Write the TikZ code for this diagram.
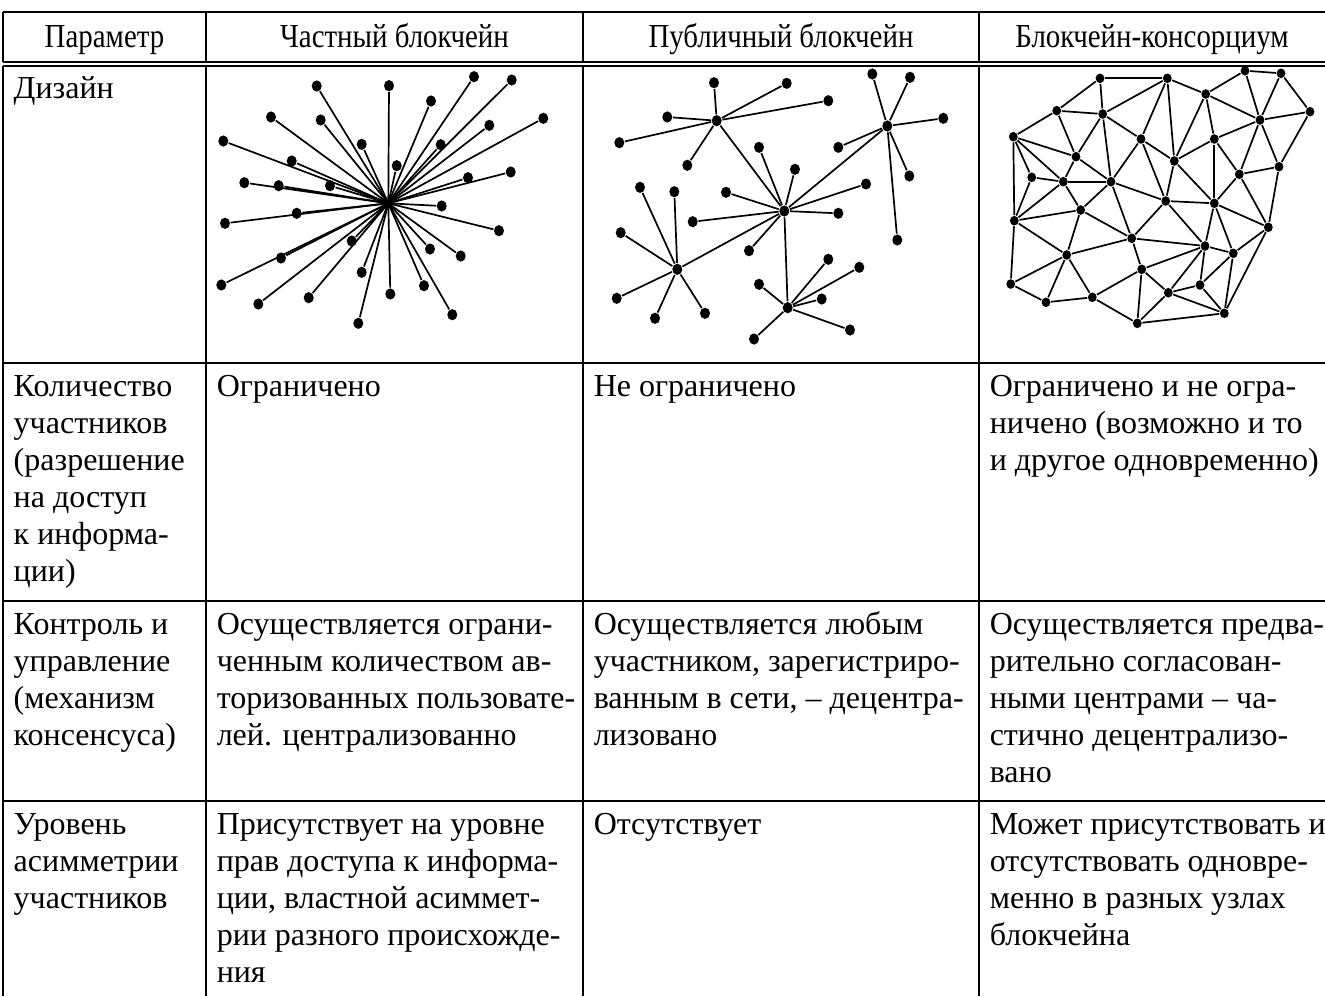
\documentclass[tikz,border=0pt]{standalone}
\usepackage{fontspec}
\setmainfont{Liberation Serif}
\newfontfamily\headfont[FakeStretch=0.86]{Liberation Serif}
\tikzset{every picture/.style={line width=0.75pt}}
\tikzset{
  rule/.style={line width=1pt},
  hd/.style={font=\headfont\fontsize{16.8pt}{19pt}\selectfont, anchor=base, inner sep=0pt},
  cell/.style={font=\fontsize{16pt}{18.5pt}\selectfont, anchor=north west, inner sep=0pt, align=left},
  dot/.style={ellipse, fill, inner sep=0pt, minimum width=5pt, minimum height=5.6pt},
  link/.style={line width=0.85pt}
}
\usetikzlibrary{shapes.geometric}

\begin{document}
\begin{tikzpicture}[x=0.5pt, y=-0.5pt]
        \useasboundingbox (0,0) rectangle (1325,996);
        % table rules
        \draw[rule] (3,12) -- (1325,12);
        \draw[rule] (3,62) -- (1325,62);
        \draw[rule] (3,65.5) -- (1325,65.5);
        \foreach \y in {363,601,801} \draw[rule] (3,\y) -- (1325,\y);
        \foreach \x in {3,206,583,979} {
            \draw[rule] (\x,12) -- (\x,62);
            \draw[rule] (\x,65.5) -- (\x,996);
        }
        % header
        \node[hd] (hpar)  at (104.5,47) {Параметр};
        \node[hd] (hpriv) at (394.5,47) {Частный блокчейн};
        \node[hd] (hpub)  at (781,47)   {Публичный блокчейн};
        \node[hd] (hcons) at (1152,47)  {Блокчейн-консорциум};
        % body
        \node[cell] (design) at (13,72) {\strut Дизайн};
        \node[cell] (size) at (13,370) {\strut Количество\\участников\\(разрешение\\на доступ\\к информа-\\ции)};
        \node[cell] (sizepriv) at (216,370) {\strut Ограничено};
        \node[cell] (sizepub)  at (593,370) {\strut Не ограничено};
        \node[cell] (sizecons) at (989,370) {\strut Ограничено и не огра-\\ничено (возможно и то\\и другое одновременно)};
        \node[cell] (ctrl) at (13,608) {\strut Контроль и\\управление\\(механизм\\консенсуса)};
        \node[cell] (ctrlpriv) at (216,608) {\strut Осуществляется ограни-\\ченным количеством ав-\\торизованных пользовате-\\лей. централизованно};
        \node[cell] (ctrlpub)  at (593,608) {\strut Осуществляется любым\\участником, зарегистриро-\\ванным в сети, – децентра-\\лизовано};
        \node[cell] (ctrlcons) at (989,608) {\strut Осуществляется предва-\\рительно согласован-\\ными центрами – ча-\\стично децентрализо-\\вано};
        \node[cell] (asym) at (13,808) {\strut Уровень\\асимметрии\\участников};
        \node[cell] (asympriv) at (216,808) {\strut Присутствует на уровне\\прав доступа к информа-\\ции, властной асиммет-\\рии разного происхожде-\\ния};
        \node[cell] (asympub)  at (593,808) {\strut Отсутствует};
        \node[cell] (asymcons) at (989,808) {\strut Может присутствовать и\\отсутствовать одновре-\\менно в разных узлах\\блокчейна};
        % private: star
        \node[dot, minimum width=2pt, minimum height=2pt] (s0) at (388.3,203.3) {};
        \foreach \n/\x/\y in {1/316.7/86, 2/389/85.7, 3/474/76.7, 4/511.7/80, 5/431/101,
            6/271/117, 7/320.7/120, 8/489.3/125.3, 9/543.3/118.3, 10/223.3/141,
            11/361.7/144.3, 12/440.7/144.7, 13/291.7/161, 14/396.7/165.7, 15/244.3/182.7,
            16/278.7/185.7, 17/330/185.7, 18/468/177.7, 19/510.7/172, 20/441.7/206,
            21/296.7/213.3, 22/225/223.3, 23/499/230.7, 24/351.7/241, 25/430/249,
            26/460.7/256, 27/281/258, 28/221.3/285, 29/361.7/272.3, 30/390.3/294,
            31/424/285.7, 32/258.3/304, 33/308.7/297.7, 34/452.3/314.7, 35/358.3/323.3} {
            \node[dot] (s\n) at (\x,\y) {};
            \draw[link] (s0.center) -- (s\n);
        }
        % public: hubs and leaves
        \foreach \h/\x/\y in {1/716.7/120.7, 2/887.3/126, 3/784.3/211, 4/677.3/269.3, 5/787.7/307.7}
            \node[dot] (p\h) at (\x,\y) {};
        \draw[link] (p1) -- (p3);
        \draw[link] (p2) -- (p3);
        \draw[link] (p4) -- (p3);
        \draw[link] (p5) -- (p3);
        \foreach \h/\k/\x/\y in {1/1/714/82.7, 1/2/786.7/83.3, 1/3/828.3/100.7, 1/4/667.3/117, 1/5/619.3/142.7, 1/6/687.3/165.3,
            2/1/872.3/74, 2/2/910/77.3, 2/3/943.3/118.3, 2/4/838.3/147.3, 2/5/909.3/176, 2/6/897.3/240,
            3/1/759/147.3, 3/2/795/169.3, 3/3/866/184, 3/4/726/192.3, 3/5/838.3/213.3, 3/6/692.7/221.7, 3/7/749/250.7,
            4/1/640/187.3, 4/2/674.3/191.7, 4/3/620.7/232.7, 4/4/616.7/298.3, 4/5/655/318.3, 4/6/705/313.3,
            5/1/828.3/259.3, 5/2/859.3/267.3, 5/3/821.7/299, 5/4/759/284.3, 5/5/850/330, 5/6/754/339} {
            \node[dot] (q\h-\k) at (\x,\y) {};
            \draw[link] (p\h) -- (q\h-\k);
        }
        % consortium: mesh
        \foreach \n/\x/\y in {a/1100/78.3, b/1167.3/78.3, c/1245/70.7, d/1281/73.3, e/1205.7/94,
            f/1310/111.7, g/1056.7/110.7, h/1102.7/114, i/1260/120, j/1013.3/136.7,
            k/1141/139, l/1214.3/139, m/1076/156.7, n/1174.3/161, o/1279/166.7,
            p/1239.3/174.3, q/1031.7/177.3, r/1063.3/181.7, s/1111/181.7, t/1165.7/201,
            u/1214.3/203.3, v/1014.3/220.7, w/1080.7/210, x/1268.3/227.3, y/1131.7/238.3,
            z/1205/246, A/1233.3/253.3, B/1066.7/255, C/1141.7/269.3, D/1010.7/284,
            E/1200/285, F/1168.3/292.7, G/1046/302.3, H/1092.3/297.3, I/1224.3/313.3, J/1137.3/323.3}
            \node[dot, minimum width=4.4pt, minimum height=4.8pt] (c\n) at (\x,\y) {};
        \foreach \a/\b in {a/b, a/g, a/h, b/h, b/k, b/n, b/e, e/c, c/d, c/i, d/f, d/i, f/i, e/i, e/l, e/n,
            f/o, i/o, i/p, i/l, o/p, o/x, l/p, l/u, l/n, g/j, g/h, g/m, h/m, h/s, h/k,
            j/m, j/q, j/r, j/v, k/s, k/n, k/t, m/r, m/s, q/r, q/v, r/s, r/w, r/v, s/w, s/y, s/t,
            n/t, n/u, p/u, p/x, t/u, t/y, t/z, u/z, u/x, u/A, v/w, v/B, v/D, w/y, w/B,
            y/B, y/C, y/z, z/A, z/C, z/E, z/F, x/A, x/I, A/E, A/I, B/D, B/G, B/H,
            C/H, C/F, C/J, D/G, G/H, H/J, E/F, E/I, F/J, F/I, I/J}
            \draw[link] (c\a) -- (c\b);
    \end{tikzpicture}
\end{document}
